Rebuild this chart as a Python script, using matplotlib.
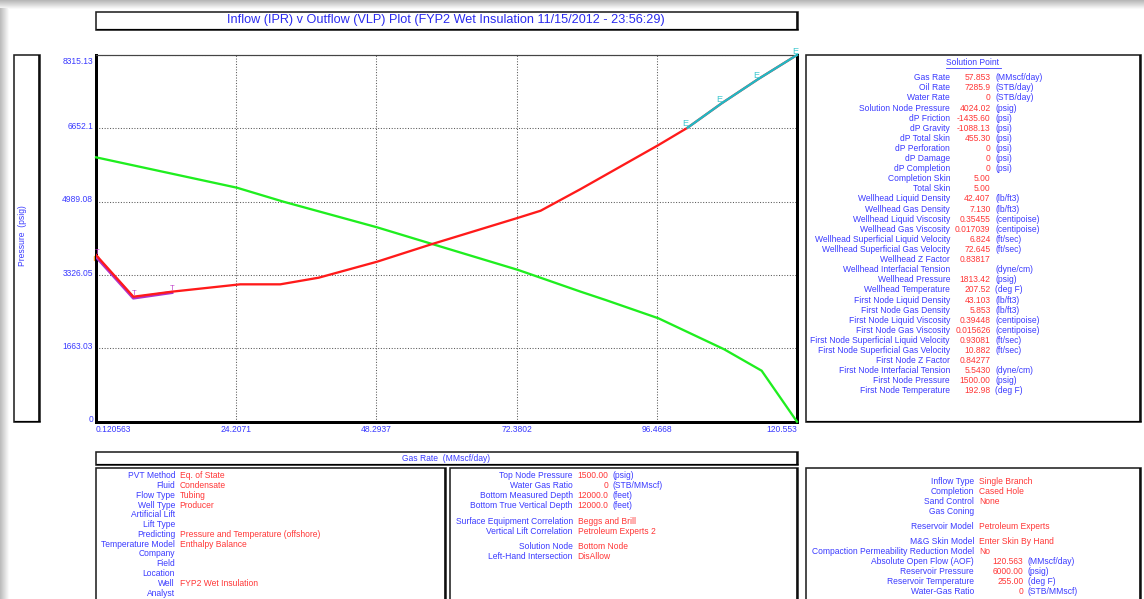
import matplotlib
matplotlib.use("Agg")
import matplotlib.pyplot as plt
from matplotlib.patches import Rectangle
from matplotlib.transforms import ScaledTranslation

plt.rcParams['font.family'] = ['Liberation Sans', 'DejaVu Sans']

# ---------------- data ----------------
x_min, x_max = 0.120563, 120.553
y_min, y_max = 0.0, 8315.13
x_ticks = [0.120563, 24.2071, 48.2937, 72.3802, 96.4668, 120.553]
x_tick_labels = ["0.120563", "24.2071", "48.2937", "72.3802", "96.4668", "120.553"]
y_ticks = [0, 1663.03, 3326.05, 4989.08, 6652.1, 8315.13]
y_tick_labels = ["0", "1663.03", "3326.05", "4989.08", "6652.1", "8315.13"]

# Inflow performance (IPR)
ipr_rate = [0.120563, 24.33, 32.35, 48.40, 57.88, 72.67, 83.39, 87.69, 96.76, 108.05, 114.48, 120.553]
ipr_press = [5995, 5306, 4988, 4408, 4029, 3440, 2948, 2759, 2344, 1641, 1156, 0]

# Outflow (VLP)
vlp_rate = [0.120563, 6.54, 13.14, 24.90, 31.78, 38.37, 48.41, 57.88, 72.67, 76.51, 83.39, 96.76,
            101.75, 107.6, 113.9, 120.553]
vlp_press = [3780, 2834, 2948, 3115, 3115, 3265, 3628, 4029, 4625, 4784, 5276, 6274,
             6666, 7219, 7770, 8315.13]

# Flagged points: erosional velocity (E) and temperature (T)
e_rate = [101.75, 107.6, 113.9, 120.553]
e_press = [6666, 7219, 7770, 8315.13]
t_rate = [0.120563, 6.54, 13.14]
t_press = [3745, 2805, 2930]

title = "Inflow (IPR) v Outflow (VLP) Plot (FYP2 Wet Insulation 11/15/2012 - 23:56:29)"

solution_rows = [
    ("Gas Rate", "57.853", "(MMscf/day)"),
    ("Oil Rate", "7285.9", "(STB/day)"),
    ("Water Rate", "0", "(STB/day)"),
    ("Solution Node Pressure", "4024.02", "(psig)"),
    ("dP Friction", "-1435.60", "(psi)"),
    ("dP Gravity", "-1088.13", "(psi)"),
    ("dP Total Skin", "455.30", "(psi)"),
    ("dP Perforation", "0", "(psi)"),
    ("dP Damage", "0", "(psi)"),
    ("dP Completion", "0", "(psi)"),
    ("Completion Skin", "5.00", ""),
    ("Total Skin", "5.00", ""),
    ("Wellhead Liquid Density", "42.407", "(lb/ft3)"),
    ("Wellhead Gas Density", "7.130", "(lb/ft3)"),
    ("Wellhead Liquid Viscosity", "0.35455", "(centipoise)"),
    ("Wellhead Gas Viscosity", "0.017039", "(centipoise)"),
    ("Wellhead Superficial Liquid Velocity", "6.824", "(ft/sec)"),
    ("Wellhead Superficial Gas Velocity", "72.645", "(ft/sec)"),
    ("Wellhead Z Factor", "0.83817", ""),
    ("Wellhead Interfacial Tension", "", "(dyne/cm)"),
    ("Wellhead Pressure", "1813.42", "(psig)"),
    ("Wellhead Temperature", "207.52", "(deg F)"),
    ("First Node Liquid Density", "43.103", "(lb/ft3)"),
    ("First Node Gas Density", "5.853", "(lb/ft3)"),
    ("First Node Liquid Viscosity", "0.39448", "(centipoise)"),
    ("First Node Gas Viscosity", "0.015626", "(centipoise)"),
    ("First Node Superficial Liquid Velocity", "0.93081", "(ft/sec)"),
    ("First Node Superficial Gas Velocity", "10.882", "(ft/sec)"),
    ("First Node Z Factor", "0.84277", ""),
    ("First Node Interfacial Tension", "5.5430", "(dyne/cm)"),
    ("First Node Pressure", "1500.00", "(psig)"),
    ("First Node Temperature", "192.98", "(deg F)"),
]

pvt_rows = [
    ("PVT Method", "Eq. of State"),
    ("Fluid", "Condensate"),
    ("Flow Type", "Tubing"),
    ("Well Type", "Producer"),
    ("Artificial Lift", ""),
    ("Lift Type", ""),
    ("Predicting", "Pressure and Temperature (offshore)"),
    ("Temperature Model", "Enthalpy Balance"),
    ("Company", ""),
    ("Field", ""),
    ("Location", ""),
    ("Well", "FYP2 Wet Insulation"),
    ("Analyst", ""),
]

well_num_rows = [
    ("Top Node Pressure", "1500.00", "(psig)"),
    ("Water Gas Ratio", "0", "(STB/MMscf)"),
    ("Bottom Measured Depth", "12000.0", "(feet)"),
    ("Bottom True Vertical Depth", "12000.0", "(feet)"),
]
well_corr_rows = [
    ("Surface Equipment Correlation", "Beggs and Brill"),
    ("Vertical Lift Correlation", "Petroleum Experts 2"),
]
well_node_rows = [
    ("Solution Node", "Bottom Node"),
    ("Left-Hand Intersection", "DisAllow"),
]

res_text_rows = [
    ("Inflow Type", "Single Branch", 481.7),
    ("Completion", "Cased Hole", 491.7),
    ("Sand Control", "None", 501.5),
    ("Gas Coning", "", 511.5),
    ("Reservoir Model", "Petroleum Experts", 526.7),
    ("M&G Skin Model", "Enter Skin By Hand", 541.7),
    ("Compaction Permeability Reduction Model", "No", 552.0),
]
res_num_rows = [
    ("Absolute Open Flow (AOF)", "120.563", "(MMscf/day)", 562.0),
    ("Reservoir Pressure", "6000.00", "(psig)", 572.0),
    ("Reservoir Temperature", "255.00", "(deg F)", 582.0),
    ("Water-Gas Ratio", "0", "(STB/MMscf)", 592.0),
]

# ---------------- styling ----------------
BLUE = "#3a3aff"
RED = "#ff3636"
FS = 6.15
W, H = 1144, 599
PT = 0.72  # points per pixel at 100 dpi

fig = plt.figure(figsize=(W / 100, H / 100), dpi=100)
fig.patch.set_facecolor("white")

# full-figure layer in pixel coordinates for frames and text panels
bg = fig.add_axes([0, 0, 1, 1], zorder=0)
bg.set_xlim(0, W)
bg.set_ylim(H, 0)
bg.axis("off")

# window shadow along the top and left edges
for i in range(9):
    shade = 0.72 + 0.032 * i
    bg.add_patch(Rectangle((0, i), W, 1.05, facecolor=(shade, shade, shade), edgecolor="none", zorder=0))
for i in range(9):
    shade = 0.74 + 0.03 * i
    bg.add_patch(Rectangle((i, 8), 1.05, H, facecolor=(shade, shade, shade), edgecolor="none", zorder=0))


def frame(x0, y0, x1, y1):
    bg.add_patch(Rectangle((x0, y0), x1 - x0, y1 - y0, facecolor="white",
                           edgecolor="#222222", lw=1.6 * PT, zorder=1))
    bg.plot([x1 - 1.2, x1 - 1.2], [y0, y1], color="black", lw=1.6 * PT, zorder=2,
            solid_capstyle="butt")
    bg.plot([x0, x1], [y1 - 1.0, y1 - 1.0], color="black", lw=1.2 * PT, zorder=2,
            solid_capstyle="butt")


# title bar
frame(96, 12, 798, 30)
bg.text(446, 20.5, title, color="#2a2aee", fontsize=9.1, ha="center", va="center", zorder=3)

# y-axis label box
frame(14, 55, 40, 422)
bg.text(22.5, 236, "Pressure  (psig)", color=BLUE, fontsize=FS, rotation=90,
        ha="center", va="center", zorder=3)

# x-axis label bar
frame(96, 452, 798, 465)
bg.text(446, 458.5, "Gas Rate  (MMscf/day)", color=BLUE, fontsize=FS,
        ha="center", va="center", zorder=3)

# solution point panel
frame(806, 55, 1141, 422)
bg.text(973, 62.5, "Solution Point", color=BLUE, fontsize=FS, ha="center", va="center", zorder=3)
bg.plot([946, 1001], [67.5, 67.5], color=BLUE, lw=0.6, zorder=3)
for i, (lab, val, unit) in enumerate(solution_rows):
    yy = 77.7 + i * 10.106
    bg.text(950, yy, lab, color=BLUE, fontsize=FS, ha="right", va="center", zorder=3)
    if val:
        bg.text(990.5, yy, val, color=RED, fontsize=FS, ha="right", va="center", zorder=3)
    if unit:
        bg.text(995, yy, unit, color=BLUE, fontsize=FS, ha="left", va="center", zorder=3)

# bottom-left panel
frame(96, 468, 446, 612)
for i, (lab, val) in enumerate(pvt_rows):
    yy = 475.7 + i * 9.78
    bg.text(175, yy, lab, color=BLUE, fontsize=FS, ha="right", va="center", zorder=3)
    if val:
        bg.text(179.5, yy, val, color=RED, fontsize=FS, ha="left", va="center", zorder=3)

# bottom-middle panel
frame(450, 468, 798, 612)
for i, (lab, val, unit) in enumerate(well_num_rows):
    yy = 475.3 + i * 10.2
    bg.text(572.7, yy, lab, color=BLUE, fontsize=FS, ha="right", va="center", zorder=3)
    bg.text(608.3, yy, val, color=RED, fontsize=FS, ha="right", va="center", zorder=3)
    bg.text(612.7, yy, unit, color=BLUE, fontsize=FS, ha="left", va="center", zorder=3)
for i, (lab, val) in enumerate(well_corr_rows):
    yy = 521.7 + i * 10.0
    bg.text(572.7, yy, lab, color=BLUE, fontsize=FS, ha="right", va="center", zorder=3)
    bg.text(577.7, yy, val, color=RED, fontsize=FS, ha="left", va="center", zorder=3)
for i, (lab, val) in enumerate(well_node_rows):
    yy = 546.7 + i * 10.0
    bg.text(572.7, yy, lab, color=BLUE, fontsize=FS, ha="right", va="center", zorder=3)
    bg.text(577.7, yy, val, color=RED, fontsize=FS, ha="left", va="center", zorder=3)

# bottom-right panel
frame(806, 468, 1141, 612)
for lab, val, yy in res_text_rows:
    bg.text(974, yy, lab, color=BLUE, fontsize=FS, ha="right", va="center", zorder=3)
    if val:
        bg.text(979.3, yy, val, color=RED, fontsize=FS, ha="left", va="center", zorder=3)
for lab, val, unit, yy in res_num_rows:
    bg.text(974, yy, lab, color=BLUE, fontsize=FS, ha="right", va="center", zorder=3)
    bg.text(1023.3, yy, val, color=RED, fontsize=FS, ha="right", va="center", zorder=3)
    bg.text(1027.7, yy, unit, color=BLUE, fontsize=FS, ha="left", va="center", zorder=3)

# ---------------- IPR / VLP plot ----------------
left, right, top, bottom = 96, 797, 55, 421.7
ax = fig.add_axes([left / W, 1 - bottom / H, (right - left) / W, (bottom - top) / H], zorder=2)
ax.set_facecolor("white")
ax.set_xlim(x_min, x_max)
ax.set_ylim(y_min, y_max)

ax.set_xticks(x_ticks)
ax.set_xticklabels(x_tick_labels)
ax.set_yticks(y_ticks)
ax.set_yticklabels(y_tick_labels)
ax.tick_params(length=0, labelsize=FS, labelcolor=BLUE)
ax.tick_params(axis="x", pad=2.2)
ax.tick_params(axis="y", pad=2.0)

xl = ax.get_xticklabels()
xl[0].set_horizontalalignment("left")
xl[-1].set_horizontalalignment("right")
for k, lab in enumerate(ax.get_yticklabels()):
    dy = -5 / 100 if k == len(y_ticks) - 1 else 3 / 100
    lab.set_transform(lab.get_transform() + ScaledTranslation(0, dy, fig.dpi_scale_trans))

ax.grid(True, color="#5a5a5a", lw=0.75, linestyle=(0, (1, 1.6)))
ax.set_axisbelow(True)

for side in ("left", "bottom", "right"):
    ax.spines[side].set_color("black")
    ax.spines[side].set_linewidth(3.0 * PT)
ax.spines["top"].set_color("#444444")
ax.spines["top"].set_linewidth(1.2 * PT)

ax.plot(ipr_rate, ipr_press, color="#1fee1f", lw=2.3 * PT, zorder=3,
        solid_joinstyle="round", clip_on=False)
ax.plot(t_rate, t_press, color="#b030c8", lw=3.2 * PT, zorder=3, solid_joinstyle="round")
ax.plot(vlp_rate, vlp_press, color="#ff1a1a", lw=2.3 * PT, zorder=4, solid_joinstyle="round")
ax.plot(e_rate, e_press, color="#20b8c4", lw=2.3 * PT, zorder=5, solid_joinstyle="round",
        clip_on=False)
ax.plot([vlp_rate[0]], [vlp_press[0] - 60], marker="s", ms=3.5, color="#ffa030",
        mec="#ffa030", zorder=2, clip_on=False)

for r, p in zip(e_rate, e_press):
    ax.annotate("E", (r, p), xytext=(-1.5, -0.5), textcoords="offset points",
                color="#40c8d0", fontsize=6.6, ha="center", va="bottom", zorder=6,
                annotation_clip=False)
for r, p in zip(t_rate, t_press):
    ax.annotate("T", (r, p), xytext=(0.5, 0.5), textcoords="offset points",
                color="#c040c8", fontsize=5.4, ha="center", va="bottom", zorder=6,
                annotation_clip=False)

fig.savefig("out.png", dpi=100)
